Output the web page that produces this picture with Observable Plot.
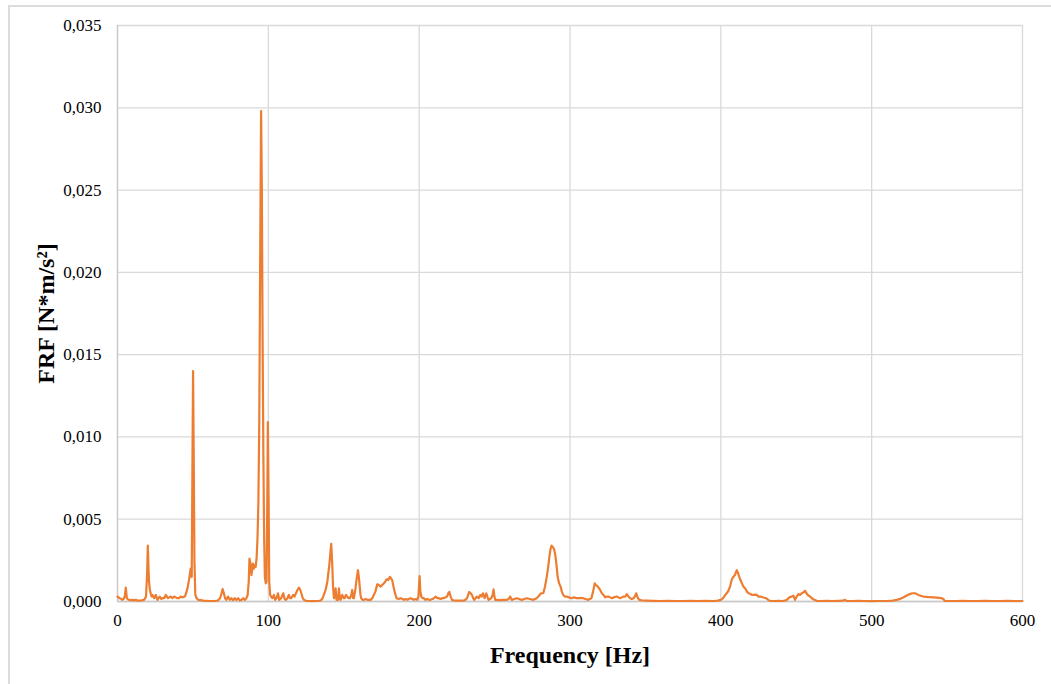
<!DOCTYPE html>
<html>
<head>
<meta charset="utf-8">
<script src="https://cdn.jsdelivr.net/npm/d3@7"></script>
<script src="https://cdn.jsdelivr.net/npm/@observablehq/plot@0.6"></script>
<style>
  html, body { margin: 0; padding: 0; background: #fff; }
  #wrap { position: relative; width: 1051px; height: 684px; overflow: hidden; }
  #frame { position: absolute; left: 8px; top: 5px; width: 1100px; height: 700px;
           border-top: 2px solid #dcdcdc; border-left: 2px solid #dcdcdc; box-sizing: border-box; }
  #chart { position: absolute; left: 0; top: 0; }
</style>
</head>
<body>
<div id="wrap"><div id="frame"></div><div id="chart"></div></div>
<script>
// Frequency [Hz]
const freq = [
  0, 0.5, 1.2, 2.2, 3, 4, 4.8, 5.5, 6.2, 7, 8, 8.8, 10, 11, 12.1, 13.5, 15.4, 16.5, 17.6, 18.9,
  19.6, 20.1, 20.6, 20.9, 21.5, 22, 22.6, 23.2, 24.3, 25.4, 26.5, 27.2, 28, 29, 29.8, 31, 32, 33.5, 34.3, 35.3,
  36.4, 37.5, 38.6, 39.7, 40.8, 41.9, 43, 44.6, 45.5, 46.4, 47.4, 48.5, 49.2, 49.6, 50.1, 50.6, 51, 51.6, 52.5, 53.5,
  55, 57, 59, 61, 63, 65, 66.5, 68, 69, 69.7, 70.5, 71.3, 72.2, 73.3, 74.4, 75.5, 76.6, 77.7, 78.8, 80,
  81, 82.2, 83.3, 84.4, 85.5, 86.3, 87, 87.5, 88.2, 88.8, 89.3, 89.8, 90.4, 91, 91.6, 92.2, 92.8, 93.4, 94, 94.6,
  95.2, 95.7, 96.2, 96.7, 97.2, 97.7, 98.3, 98.8, 99.3, 99.7, 100.2, 100.6, 101.2, 101.8, 102.7, 103.7, 104.5, 105.4, 106.4, 107.2,
  108.5, 109.9, 110.8, 111.6, 112.7, 113.6, 114.5, 115.2, 116.5, 117.4, 118.3, 119.3, 120.3, 121.2, 121.9, 122.8, 123.6, 125, 127, 129,
  131, 133, 134.8, 136, 136.8, 138, 139.1, 140.4, 141.7, 142.4, 142.9, 143.5, 144.6, 145.2, 146.2, 146.8, 147.4, 147.9, 149, 150,
  150.6, 151.5, 152.3, 153.2, 154.1, 155, 155.6, 156.2, 156.7, 157.8, 158.6, 159.4, 160, 160.5, 161.1, 161.6, 162.5, 163.4, 164.6, 165.7,
  166.8, 167.8, 168.9, 169.9, 171, 172.2, 173.3, 174.4, 175.5, 176.6, 177.5, 178.4, 179.5, 180.6, 181.4, 182.1, 183, 183.7, 185, 186.4,
  187.7, 189, 189.9, 191, 192.1, 193.2, 194.3, 195.4, 196.5, 197.6, 198.7, 199.5, 200.3, 200.8, 201.4, 202.2, 203.1, 204.2, 205.3, 206.4,
  207.5, 208.7, 209.8, 210.9, 212, 213.1, 214.2, 215.3, 216.3, 217.4, 218.5, 219.3, 220, 220.9, 221.8, 223, 225.1, 227.3, 229.5, 230.6,
  231.7, 232.5, 233.2, 234.1, 235, 235.8, 236.5, 237.4, 238.3, 239.4, 240.5, 241.4, 242.3, 243.4, 244.5, 245.2, 246, 247, 247.8, 248.7,
  249.3, 249.9, 250.4, 252, 253.7, 255.9, 258.1, 259.4, 260.3, 261.4, 263, 264.7, 266.3, 268, 269.7, 271.3, 273.5, 275.7, 277.9, 279,
  280.8, 282.3, 283.4, 284.5, 285.4, 286.3, 287.1, 287.8, 288.6, 289.4, 290.1, 290.7, 291.3, 291.8, 292.8, 293.8, 294.6, 295.5, 296.6, 297.7,
  299.3, 301, 302.7, 304.3, 306.5, 308.7, 310.4, 312, 313.1, 314.2, 315.3, 316.4, 317.2, 318, 318.9, 320, 321.1, 322.2, 323.3, 324.4,
  325.5, 326.6, 327.7, 329, 331, 332.2, 333.3, 334.4, 335.5, 336.6, 337.7, 338.8, 339.9, 341, 342.1, 343, 343.9, 345, 346.1, 348,
  351, 355, 360, 365, 370, 375, 380, 385, 390, 395, 398, 400, 401.5, 403, 405, 406.2, 407.3, 408.3, 409.3, 410.6,
  411.5, 412.8, 414, 415, 416.1, 417.3, 418.4, 419.4, 420.6, 421.7, 422.8, 423.8, 425, 426.3, 428.2, 430, 431.4, 432.6, 435, 438,
  441, 443.5, 445.9, 447, 448.1, 449.2, 450.3, 451.4, 452.5, 453.6, 454.7, 455.8, 456.8, 458, 459.2, 460.3, 462, 463.6, 466, 470,
  474, 478, 481, 482.3, 483.5, 487, 491, 495, 500, 505, 510, 514, 516.6, 519, 520.9, 523, 525.3, 527, 528.7, 530,
  530.9, 532.5, 534.2, 536.4, 538.6, 540.8, 543, 544.7, 546.4, 547.5, 548.5, 552, 556, 560, 565, 570, 575, 580, 585, 590,
  595, 600
];
// FRF [N*m/s²]
const frf = [
  0.0003, 0.00028, 0.0002, 0.00018, 0.0001, 0.00015, 0.0003, 0.00084, 0.0002, 0.00012, 0.0001, 0.00008, 0.0001, 0.00006, 0.0001, 0.00005, 0.00005, 0.00008, 0.0001, 0.0003,
  0.0016, 0.0034, 0.0019, 0.0012, 0.0007, 0.0005, 0.0003, 0.0004, 0.0002, 0.0004, 0.0001, 0.0002, 0.0003, 0.00015, 0.0002, 0.0002, 0.0004, 0.0002, 0.00025, 0.0003,
  0.0002, 0.0003, 0.00025, 0.0002, 0.0002, 0.0003, 0.00025, 0.0003, 0.0005, 0.0008, 0.0013, 0.0020, 0.0015, 0.007, 0.0140, 0.008, 0.0025, 0.0004, 0.0002, 0.0001,
  0.00008, 0.00005, 0.00004, 0.00003, 0.00003, 0.00004, 0.00006, 0.0002, 0.0005, 0.00076, 0.0005, 0.0002, 0.0001, 0.0003, 0.0001, 0.0002, 0.00008, 0.0002, 0.0001, 0.0002,
  0.00006, 0.0001, 0.0002, 0.0001, 0.0002, 0.0004, 0.0012, 0.0026, 0.0023, 0.0016, 0.0019, 0.0023, 0.002, 0.0022, 0.0021, 0.0026, 0.0038, 0.006, 0.011, 0.021,
  0.0298, 0.025, 0.016, 0.009, 0.004, 0.0015, 0.0011, 0.0012, 0.006, 0.0109, 0.006, 0.0012, 0.0004, 0.0003, 0.0002, 0.0004, 0.0001, 0.0002, 0.0005, 0.0001,
  0.0002, 0.0005, 0.00015, 0.0001, 0.0002, 0.0004, 0.0002, 0.0002, 0.0004, 0.0003, 0.0005, 0.0007, 0.00084, 0.0007, 0.0005, 0.0002, 0.0001, 0.00004, 0.00003, 0.00002,
  0.00003, 0.00003, 0.00006, 0.0002, 0.0004, 0.0007, 0.0012, 0.0022, 0.0035, 0.0022, 0.0009, 0.0002, 0.0008, 0.0001, 0.0001, 0.0008, 0.0002, 0.0001, 0.0004, 0.0002,
  0.0002, 0.0004, 0.0003, 0.0002, 0.0002, 0.0004, 0.0007, 0.0002, 0.0002, 0.0008, 0.0014, 0.0019, 0.0015, 0.001, 0.0004, 0.0002, 0.0001, 0.0001, 0.00015, 0.0001,
  0.0001, 0.0001, 0.0002, 0.0004, 0.0006, 0.00104, 0.001, 0.0009, 0.001, 0.0011, 0.0012, 0.00135, 0.0013, 0.0015, 0.0014, 0.0013, 0.0009, 0.0006, 0.0002, 0.00015,
  0.0002, 0.00015, 0.0001, 0.00015, 0.0001, 0.00015, 0.0002, 0.00015, 0.0001, 0.00015, 0.0001, 0.0003, 0.00155, 0.0006, 0.0003, 0.0002, 0.0002, 0.0001, 0.00015, 0.0001,
  0.0001, 0.00015, 0.0002, 0.0003, 0.0002, 0.0002, 0.00015, 0.0002, 0.0002, 0.00025, 0.0003, 0.0005, 0.00058, 0.0003, 0.0001, 0.00006, 0.00005, 0.00005, 0.00005, 0.0001,
  0.0002, 0.0004, 0.00058, 0.0005, 0.0004, 0.0002, 0.0001, 0.0002, 0.0003, 0.0002, 0.0004, 0.0003, 0.0005, 0.0002, 0.0005, 0.0003, 0.0001, 0.00015, 0.0002, 0.0004,
  0.00074, 0.0003, 0.0001, 0.0001, 0.00008, 0.0001, 0.0001, 0.00015, 0.0003, 0.0001, 0.00015, 0.0002, 0.00015, 0.0001, 0.00015, 0.0002, 0.00015, 0.0001, 0.0002, 0.0003,
  0.0005, 0.0005, 0.0009, 0.00145, 0.002, 0.0027, 0.0032, 0.0034, 0.0033, 0.0032, 0.0029, 0.0025, 0.002, 0.0015, 0.0011, 0.0009, 0.0006, 0.0004, 0.0003, 0.0003,
  0.00025, 0.0002, 0.00025, 0.0002, 0.0002, 0.0002, 0.00015, 0.0001, 0.00015, 0.0002, 0.0006, 0.0011, 0.001, 0.00095, 0.00084, 0.0007, 0.0005, 0.0004, 0.00025, 0.0003,
  0.0003, 0.00025, 0.0002, 0.00025, 0.0003, 0.00025, 0.0002, 0.00025, 0.0003, 0.0003, 0.00044, 0.0003, 0.0002, 0.00015, 0.0002, 0.0003, 0.0005, 0.0002, 0.0001, 0.00006,
  0.00005, 0.00004, 0.00003, 0.00004, 0.00003, 0.00003, 0.00004, 0.00003, 0.00004, 0.00003, 0.00005, 0.0001, 0.0002, 0.0004, 0.00064, 0.00094, 0.00135, 0.0015, 0.0016, 0.0019,
  0.0017, 0.00135, 0.0011, 0.0009, 0.0008, 0.0006, 0.0005, 0.00047, 0.0004, 0.0004, 0.00042, 0.0004, 0.0003, 0.0003, 0.00024, 0.0002, 0.0001, 0.00004, 0.00003, 0.00004,
  0.00003, 0.00008, 0.00028, 0.0003, 0.00036, 0.0001, 0.0003, 0.00045, 0.0004, 0.0005, 0.00055, 0.00065, 0.0005, 0.00036, 0.0003, 0.0002, 0.0001, 0.00004, 0.00003, 0.00004,
  0.00003, 0.00004, 0.00005, 0.0001, 0.00004, 0.00003, 0.00004, 0.00003, 0.00002, 0.00003, 0.00003, 0.00005, 0.0001, 0.00016, 0.00024, 0.00035, 0.00045, 0.0005, 0.0005, 0.00045,
  0.0004, 0.00035, 0.0003, 0.00028, 0.00026, 0.00025, 0.00024, 0.00022, 0.0002, 0.00015, 0.00004, 0.00003, 0.00003, 0.00004, 0.00003, 0.00003, 0.00004, 0.00003, 0.00003, 0.00004,
  0.00003, 0.00003
];
const xTicks = [0, 100, 200, 300, 400, 500, 600];
const yTicks = [0, 0.005, 0.010, 0.015, 0.020, 0.025, 0.030, 0.035];
const xTitle = "Frequency [Hz]";
const yTitle = "FRF [N*m/s²]";

const data = freq.map((f, i) => ({f, v: frf[i]}));
const fmtY = d => d3.format(".3f")(d).replace(".", ",");

const chart = Plot.plot({
  width: 1051,
  height: 684,
  marginLeft: 117,
  marginRight: 29,
  marginTop: 25,
  marginBottom: 83,
  style: {fontFamily: "'Liberation Serif', 'Times New Roman', serif", fontSize: "17px", background: "transparent", color: "#000"},
  x: {domain: [0, 600]},
  y: {domain: [0, 0.035]},
  marks: [
    Plot.gridY(yTicks, {stroke: "#d9d9d9", strokeOpacity: 1, strokeWidth: 1.3}),
    Plot.gridX(xTicks, {stroke: "#d9d9d9", strokeOpacity: 1, strokeWidth: 1.3}),
    Plot.ruleY([0], {stroke: "#c8c8c8", strokeWidth: 1.3}),
    Plot.ruleX([0], {stroke: "#c8c8c8", strokeWidth: 1.3}),
    Plot.line(data, {x: "f", y: "v", stroke: "#ED7D31", strokeWidth: 2.2, strokeLinejoin: "round"}),
    Plot.axisY(yTicks, {tickSize: 0, tickPadding: 16, tickFormat: fmtY, label: null, fontSize: 17}),
    Plot.axisX(xTicks, {tickSize: 0, tickPadding: 12, tickFormat: d => String(d), label: null, fontSize: 17}),
    Plot.text([xTitle], {frameAnchor: "bottom", dy: 54, lineAnchor: "middle", textAnchor: "middle", fontWeight: "bold", fontSize: 24, text: d => d}),
    Plot.text([yTitle], {frameAnchor: "left", dx: -71, rotate: -90, textAnchor: "middle", lineAnchor: "middle", fontWeight: "bold", fontSize: 24, text: d => d})
  ]
});
document.getElementById("chart").appendChild(chart);
</script>
</body>
</html>
